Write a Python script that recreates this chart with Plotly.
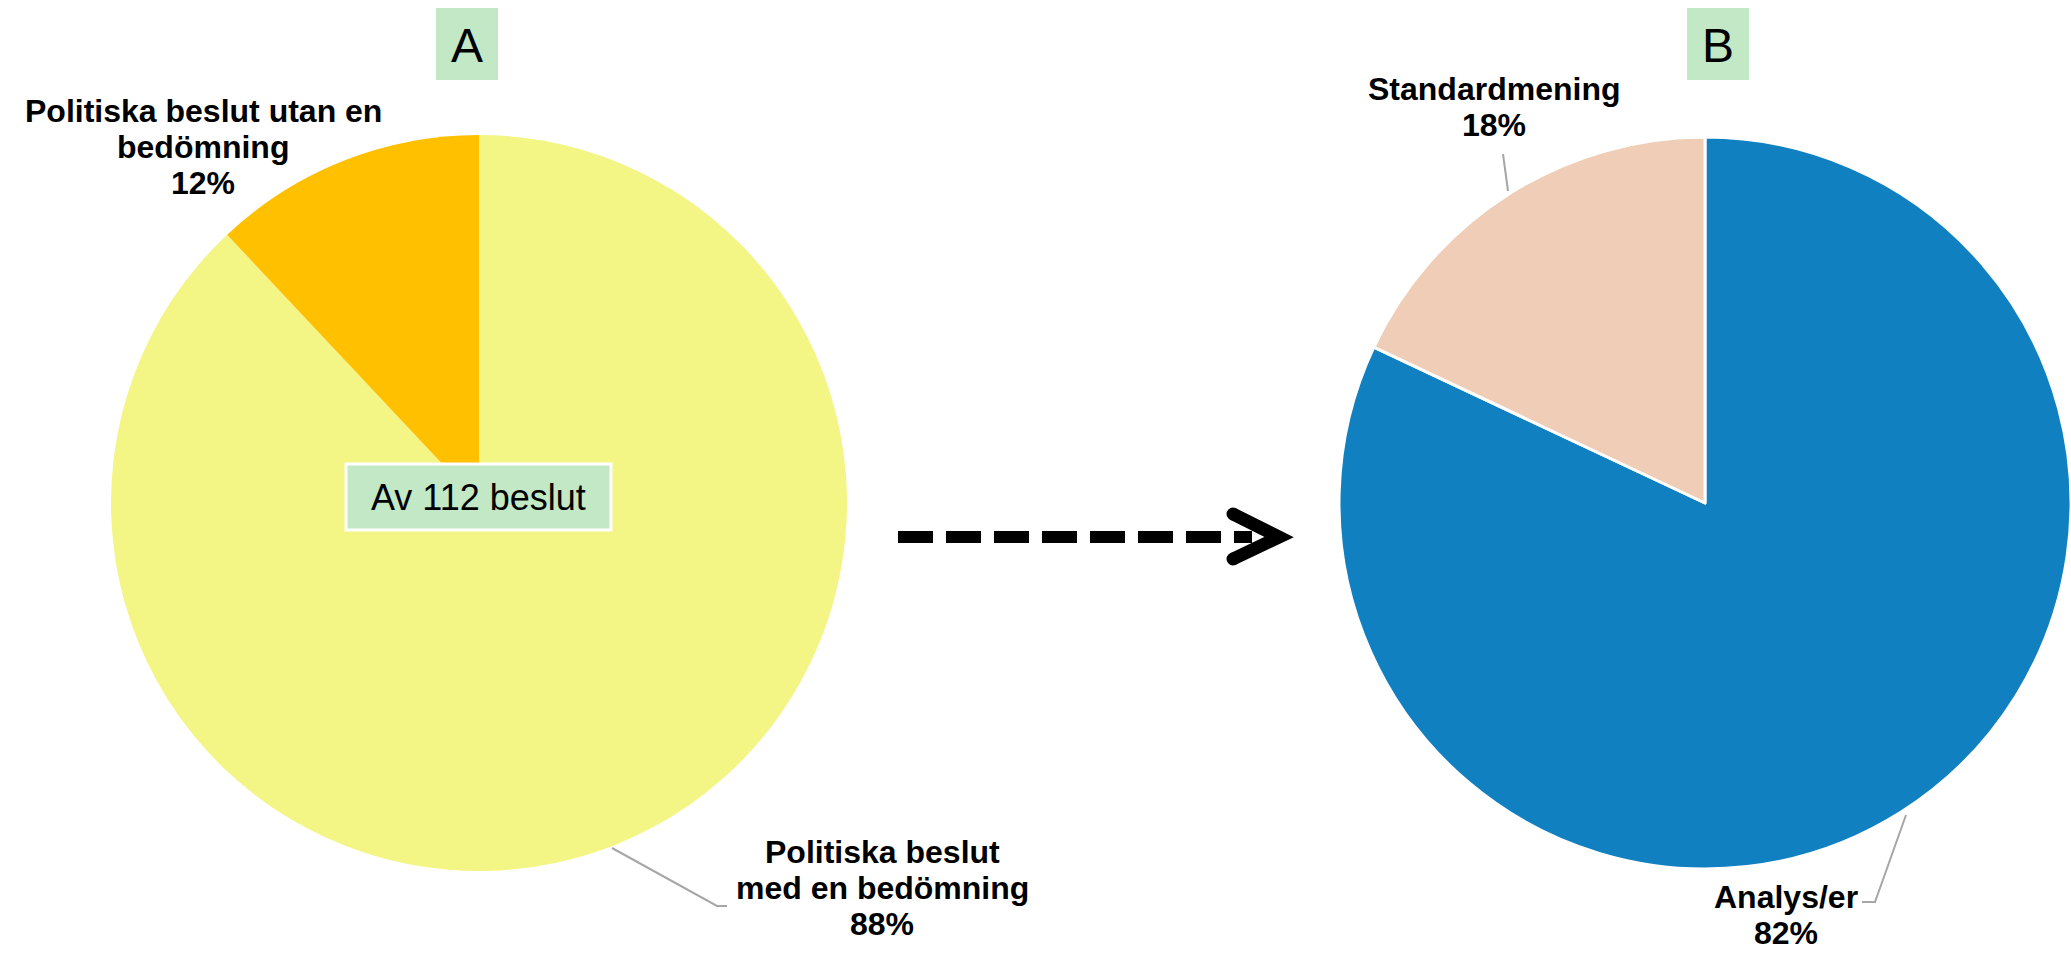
import plotly.graph_objects as go

W, H = 2071, 955

# ---- data (slice order: large slice first so the small one sits left of 12 o'clock) ----
panel_titles = ["A", "B"]
labels_a = ["Politiska beslut<br>med en bedömning", "Politiska beslut utan en<br>bedömning"]
values_a = [88, 12]
labels_b = ["Analys/er", "Standardmening"]
values_b = [82, 18]
center_note = "Av 112 beslut"

colors_a = ["#F3F584", "#FFC000"]
colors_b = ["#1080C0", "#EFCDB7"]
box_green = "#C2E8C6"
lead_gray = "#A6A6A6"
FONT = "Liberation Sans, Arial, sans-serif"


def px(x):
    return x / W


def py(y):
    return 1 - y / H


fig = go.Figure()

# pie A: centre (479, 503), r 368 ; pie B: centre (1705, 503), r 366 (px)
fig.add_trace(go.Pie(
    labels=[l.replace("<br>", " ") for l in labels_a], values=values_a,
    marker=dict(colors=colors_a, line=dict(width=0)),
    sort=False, direction="clockwise", rotation=0,
    textinfo="none", hoverinfo="skip", showlegend=False,
    domain=dict(x=[px(479 - 368), px(479 + 368)], y=[py(503 + 368), py(503 - 368)]),
))
fig.add_trace(go.Pie(
    labels=labels_b, values=values_b,
    marker=dict(colors=colors_b, line=dict(width=3, color="white")),
    sort=False, direction="clockwise", rotation=0,
    textinfo="none", hoverinfo="skip", showlegend=False,
    domain=dict(x=[px(1705 - 366), 1.0], y=[py(503 + 366), py(503 - 366)]),
))

shapes = []
annotations = []

# panel title boxes
for title, (x0, x1) in zip(panel_titles, [(436, 498), (1687, 1749)]):
    shapes.append(dict(type="rect", xref="paper", yref="paper",
                       x0=px(x0), x1=px(x1), y0=py(80), y1=py(8),
                       fillcolor=box_green, line=dict(width=0), layer="above"))
    annotations.append(dict(text=title, xref="paper", yref="paper",
                            x=px((x0 + x1) / 2), y=py(46), showarrow=False,
                            xanchor="center", yanchor="middle",
                            font=dict(family=FONT, size=48, color="black")))

# center note box
shapes.append(dict(type="rect", xref="paper", yref="paper",
                   x0=px(346), x1=px(611), y0=py(530), y1=py(464),
                   fillcolor=box_green, line=dict(width=3, color="white"), layer="above"))
annotations.append(dict(text=center_note, xref="paper", yref="paper",
                        x=px(478.5), y=py(497), showarrow=False,
                        xanchor="center", yanchor="middle",
                        font=dict(family=FONT, size=36, color="black")))

# slice labels (one annotation per text line, 37 px line pitch)
label_pos = [
    (labels_a[1], values_a[1], 203, 111),
    (labels_a[0], values_a[0], 882, 852),
    (labels_b[1], values_b[1], 1494, 89),
    (labels_b[0], values_b[0], 1786, 897),
]
for lab, val, x, y0 in label_pos:
    lines = lab.split("<br>") + [f"{val}%"]
    for i, line in enumerate(lines):
        annotations.append(dict(text=f"<b>{line}</b>", xref="paper", yref="paper",
                                x=px(x), y=py(y0 + 36 * i), showarrow=False,
                                xanchor="center", yanchor="middle", align="center",
                                font=dict(family=FONT, size=32, color="black")))

# leader lines
leaders = [
    [(612, 848), (717, 906), (727, 906)],
    [(1508, 191), (1503, 154)],
    [(1906, 815), (1875, 902), (1862, 902)],
]
for pts in leaders:
    path = "M " + " L ".join(f"{px(x)},{py(y)}" for x, y in pts)
    shapes.append(dict(type="path", xref="paper", yref="paper", path=path,
                       line=dict(color=lead_gray, width=2)))

# dashed arrow
shapes.append(dict(type="line", xref="paper", yref="paper",
                   x0=px(898), x1=px(1252), y0=py(537), y1=py(537),
                   line=dict(color="black", width=12, dash="35px,13px")))
chev = [(1233, 514), (1279, 537), (1233, 559)]
shapes.append(dict(type="path", xref="paper", yref="paper",
                   path="M " + " L ".join(f"{px(x)},{py(y)}" for x, y in chev),
                   line=dict(color="black", width=13)))
for x, y in [chev[0], chev[2]]:
    r = 6.5
    shapes.append(dict(type="circle", xref="paper", yref="paper",
                       x0=px(x - r), x1=px(x + r), y0=py(y + r), y1=py(y - r),
                       fillcolor="black", line=dict(width=0)))

fig.update_layout(
    width=W, height=H,
    margin=dict(l=0, r=0, t=0, b=0),
    paper_bgcolor="white", plot_bgcolor="white",
    shapes=shapes, annotations=annotations,
    showlegend=False,
)

fig.write_html(
    "out.html",
    config={"displayModeBar": False},
    post_script="document.body.style.margin='0';document.body.style.overflow='hidden';",
)
